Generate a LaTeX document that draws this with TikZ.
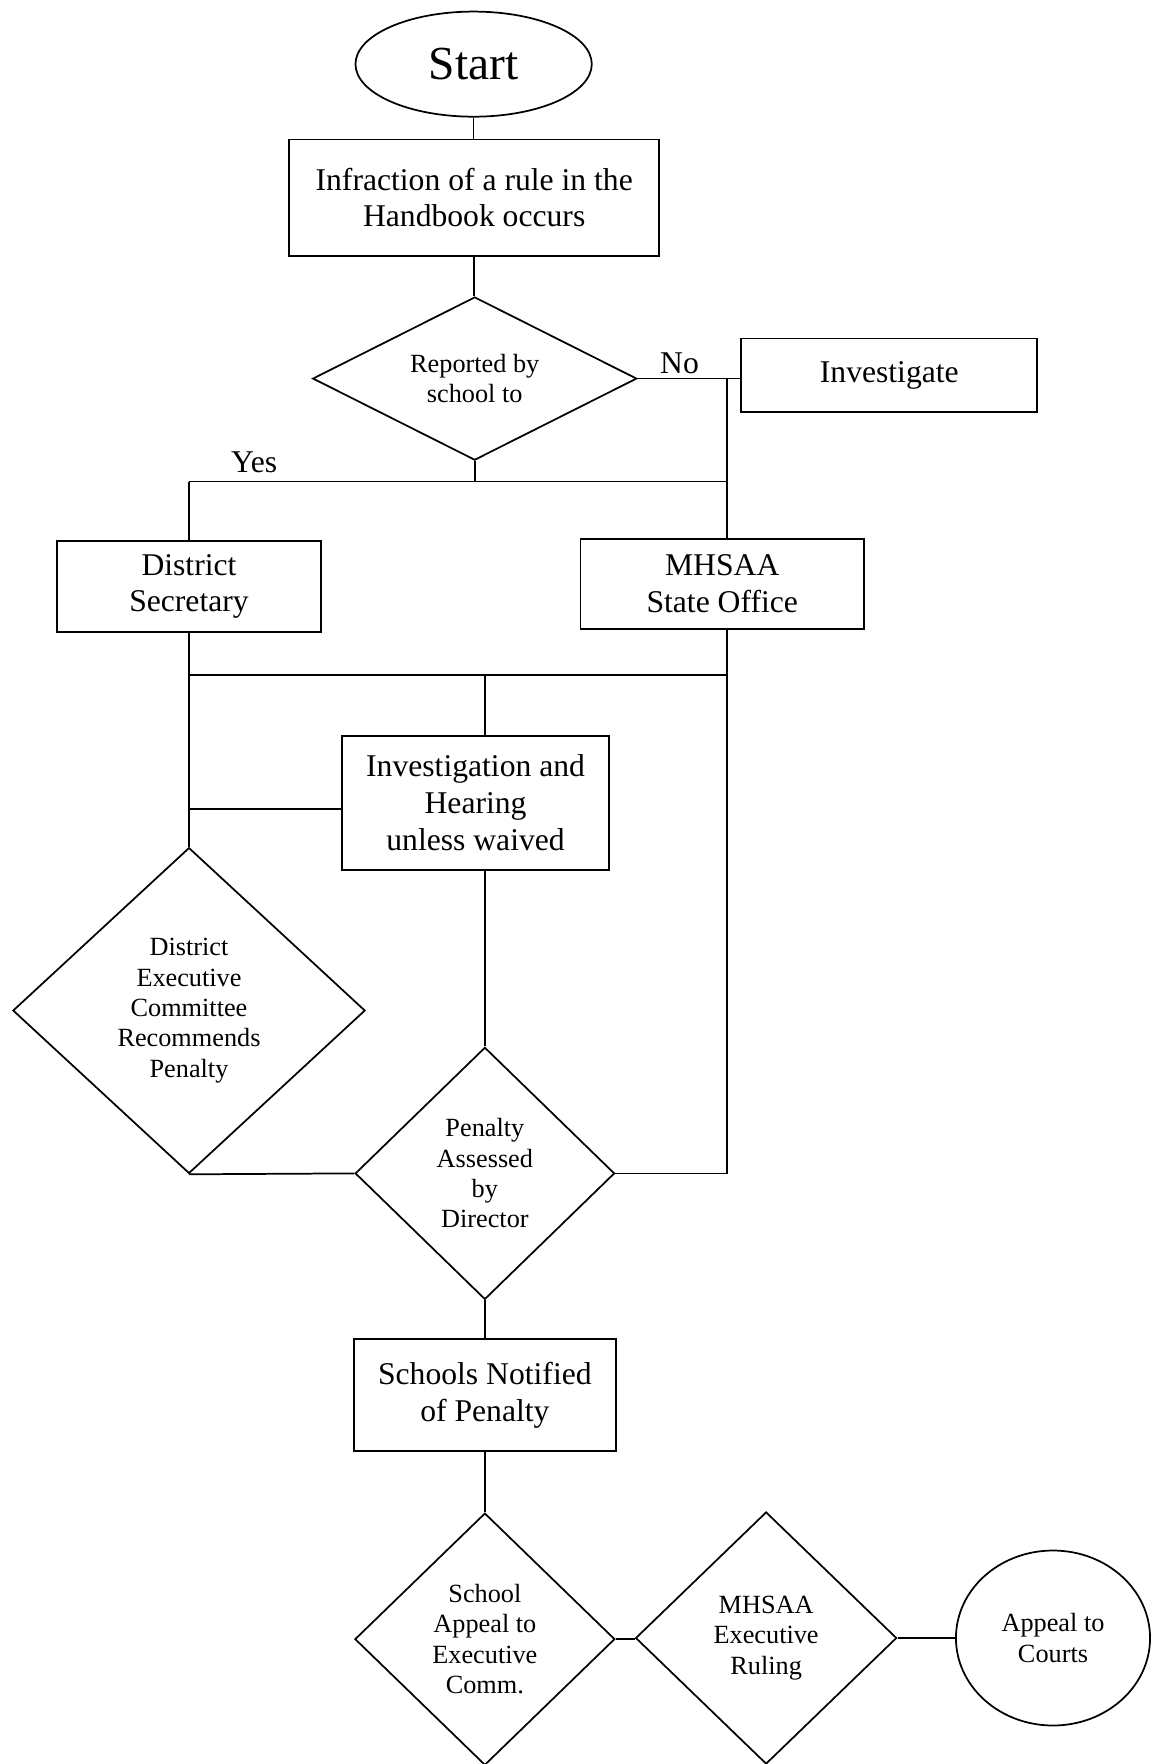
\documentclass[tikz,border=0pt]{standalone}
\usepackage{fontspec}
\setmainfont{Liberation Serif}
\usetikzlibrary{shapes.geometric}

\begin{document}
\begin{tikzpicture}[x=0.025cm, y=-0.025cm, line width=1.1pt]
\tikzstyle{box}=[rectangle, draw=black, align=center, inner sep=2pt, font=\fontsize{20}{23.1}\selectfont]
\tikzstyle{dia}=[diamond, draw=black, align=center, inner sep=0pt, font=\fontsize{16.6}{19.2}\selectfont]
\tikzstyle{oval}=[ellipse, draw=black, align=center, inner sep=0pt]
\tikzstyle{lbl}=[font=\fontsize{20}{23.1}\selectfont]

\useasboundingbox (0, 0) rectangle (1024, 1568);

% Start
\node at (421, 57) [oval, minimum width=5.25cm, minimum height=2.335cm, font=\fontsize{30}{36}\selectfont] (start) {Start};
\node at (421.5, 175.75) [box, minimum width=8.225cm, minimum height=2.5875cm] (infraction) {Infraction of a rule in the\\Handbook occurs};

% Reported?
\node at (422, 336.5) [dia, shape aspect=2, minimum width=7.2cm, minimum height=3.625cm] (reported) {Reported by\\school to};
\node at (790.5, 333.5) [box, minimum width=6.575cm, minimum height=1.625cm] (investigate) {Investigate};
\node at (604, 323) [lbl] (no) {No};
\node at (226, 411) [lbl] (yes) {Yes};

% Offices
\node at (168, 521.25) [box, minimum width=5.875cm, minimum height=2.0125cm] (district_sec) {District\\Secretary};
\node at (642, 519) [box, minimum width=6.3cm, minimum height=2cm] (state_office) {MHSAA\\State Office};

% Hearing
\node at (422.75, 713.5) [box, minimum width=5.9375cm, minimum height=2.975cm] (hearing) {Investigation and\\Hearing\\unless waived};
\node at (168, 898.25) [dia, minimum width=7.825cm, minimum height=7.2375cm] (district_exec) {District\\Executive\\Committee\\Recommends\\Penalty};
\node at (431, 1043) [dia, minimum width=5.7625cm, minimum height=5.6cm] (penalty) {Penalty\\Assessed\\by\\Director};

% Appeals
\node at (431, 1240) [box, minimum width=5.825cm, minimum height=2.5cm] (notified) {Schools Notified\\of Penalty};
\node at (431, 1457) [dia, minimum width=5.775cm, minimum height=5.6cm] (appeal_1) {School\\Appeal to\\Executive\\Comm.};
\node at (681, 1456) [dia, minimum width=5.8cm, minimum height=5.6cm] (appeal_2) {MHSAA\\Executive\\Ruling};
\node at (936, 1456) [oval, minimum width=4.3125cm, minimum height=3.8875cm, font=\fontsize{16.6}{19.2}\selectfont] (appeal_3) {Appeal to\\Courts};

% Junctions
\coordinate (no_j) at (646, 336.5);
\coordinate (yes_l) at (168, 428);
\coordinate (yes_r) at (646, 428);
\coordinate (bus_l) at (168, 600);
\coordinate (bus_m) at (431, 600);
\coordinate (bus_r) at (646, 600);
\coordinate (hear_l) at (168, 719);
\coordinate (pen_r) at (646, 1043);

% Lines
\draw (start.south) -- (start.south |- infraction.north);
\draw (infraction.south) -- (infraction.south |- reported.north);
\draw (reported.east) -- (reported.east -| investigate.west);
\draw (no_j) -- (state_office.north -| no_j);
\draw (reported.south) -- (reported.south |- yes_l);
\draw (yes_l) -- (yes_r);
\draw (yes_l) -- (district_sec.north);
\draw (district_sec.south) -- (district_exec.north);
\draw (bus_l) -- (bus_r);
\draw (bus_m) -- (bus_m |- hearing.north);
\draw (hear_l) -- (hear_l -| hearing.west);
\draw (hearing.south -| bus_m) -- (penalty.north);
\draw (state_office.south -| bus_r) -- (pen_r) -- (penalty.east);
\draw (district_exec.south) -- (penalty.west);
\draw (penalty.south) -- (notified.north);
\draw (notified.south) -- (appeal_1.north);
\draw (appeal_1.east) -- (appeal_1.east -| appeal_2.west);
\draw (appeal_2.east) -- (appeal_3.west);
\end{tikzpicture}
\end{document}
